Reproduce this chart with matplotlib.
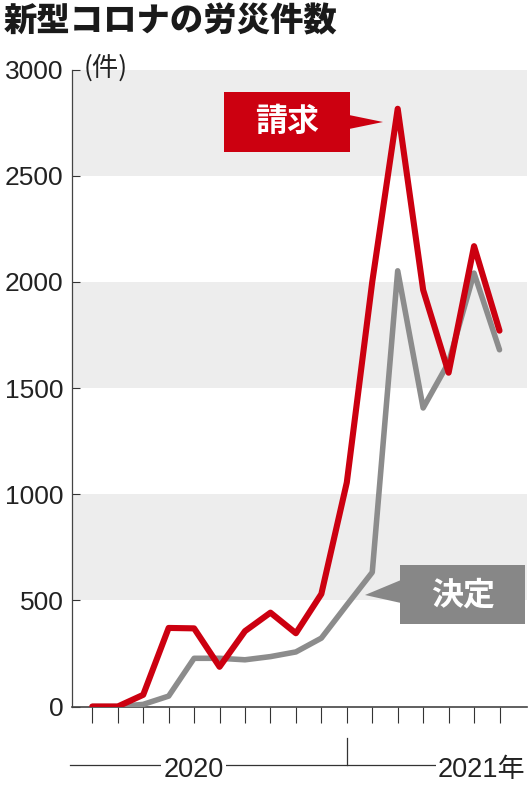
import matplotlib
matplotlib.use('Agg')
from matplotlib import pyplot as plt
from matplotlib import font_manager
from matplotlib.patches import Polygon
from matplotlib.lines import Line2D
from matplotlib.transforms import blended_transform_factory

# monthly counts, 17 months starting early 2020
months = list(range(17))
seikyu = [0, 0, 55, 370, 368, 187, 355, 442, 345, 530, 1055, 2000, 2815, 1962, 1572, 2168, 1770]
kettei = [0, 0, 10, 49, 227, 227, 220, 235, 257, 322, 478, 632, 2052, 1406, 1620, 2041, 1680]
yticks = [0, 500, 1000, 1500, 2000, 2500, 3000]
bands = [(500, 1000), (1500, 2000), (2500, 3000)]
yearLabels = ["2020", "2021年"]

RED = '#cc0010'
GRAY = '#8c8c8c'
BOXGRAY = '#878787'
BAND = '#ededed'
INK = '#222222'

names = {f.name for f in font_manager.fontManager.ttflist}
numFont = 'Liberation Sans Narrow' if 'Liberation Sans Narrow' in names else 'Liberation Sans'
jpFont = 'Noto Sans CJK JP'
plt.rcParams['font.family'] = [numFont, jpFont, 'DejaVu Sans']

W, H = 532, 800
fig = plt.figure(figsize=(W / 100, H / 100), dpi=100)

def px(x, y):
	return (x / W, 1 - y / H)

# axes box in pixels: left 71.7, right 527, top 69.5, bottom 706.5
l, r, t, b = 71.7, 527, 69.5, 706.5
ax = fig.add_axes([l / W, 1 - b / H, (r - l) / W, (b - t) / H])

step = 25.45
x0 = 92.3
ax.set_xlim(-(x0 - l) / step, 16 + (r - (x0 + 16 * step)) / step)
ax.set_ylim(0, 3000)

for lo, hi in bands:
	ax.axhspan(lo, hi, color=BAND, lw=0, zorder=0)

ax.plot(months, kettei, color=GRAY, lw=4.0, solid_capstyle='round', solid_joinstyle='round', zorder=3)
ax.plot(months, seikyu, color=RED, lw=4.4, solid_capstyle='round', solid_joinstyle='round', zorder=4)

for s in ['top', 'right']:
	ax.spines[s].set_visible(False)
ax.spines['left'].set_color('#444444')
ax.spines['left'].set_linewidth(0.9)
ax.spines['bottom'].set_color('#444444')
ax.spines['bottom'].set_linewidth(1.2)
ax.spines['bottom'].set_zorder(2)

ax.set_xticks(months)
ax.set_xticklabels([])
ax.tick_params(axis='x', direction='out', length=11.5, width=0.8, color='#333333')
ax.set_yticks(yticks)
ax.set_yticklabels([str(v) for v in yticks], fontsize=19, color=INK, family=numFont)
ax.tick_params(axis='y', direction='in', length=6, width=0.8, color='#333333', pad=6)

# year axis below
tr = blended_transform_factory(ax.transData, ax.transAxes)
yl = -0.0918
ax.add_line(Line2D([-0.89, 13.6], [yl, yl], transform=tr, color='#333333', lw=0.9, clip_on=False))
ax.add_line(Line2D([10, 10], [-0.050, yl], transform=tr, color='#333333', lw=0.9, clip_on=False))
ax.text(3.98, yl - 0.008, yearLabels[0], transform=tr, ha='center', va='center', fontsize=19.5,
	color=INK, family=[numFont, jpFont], bbox=dict(facecolor='white', edgecolor='none', pad=2))
ax.text(17.0, yl - 0.008, yearLabels[1], transform=tr, ha='right', va='center', fontsize=19.5,
	color=INK, family=[numFont, jpFont], bbox=dict(facecolor='white', edgecolor='none', pad=1))

# title and unit
fig.text(*px(4, 21), "新型コロナの労災件数", ha='left', va='center', fontsize=24,
	fontweight=900, color='#1a1a1a', family=[jpFont])
fig.text(*px(84, 68), "(件)", ha='left', va='center', fontsize=19, color=INK, family=[jpFont])

# callout labels
def callout(box, tri, txtpos, label, color):
	x1, y1, x2, y2 = box
	fig.add_artist(Polygon([px(x1, y1), px(x2, y1), px(x2, y2), px(x1, y2)], closed=True,
		transform=fig.transFigure, facecolor=color, edgecolor='none', zorder=5))
	fig.add_artist(Polygon([px(*p) for p in tri], closed=True,
		transform=fig.transFigure, facecolor=color, edgecolor='none', zorder=5))
	fig.text(*px(*txtpos), label, ha='center', va='center', fontsize=23, fontweight='bold',
		color='white', family=[jpFont], zorder=6)

callout((224, 92, 350, 152), [(349, 115), (383, 122), (349, 129)], (287, 122), "請求", RED)
callout((400, 565, 525, 624), [(401, 580), (365, 595), (401, 603)], (463, 596), "決定", BOXGRAY)

fig.savefig('out.png', dpi=100)
